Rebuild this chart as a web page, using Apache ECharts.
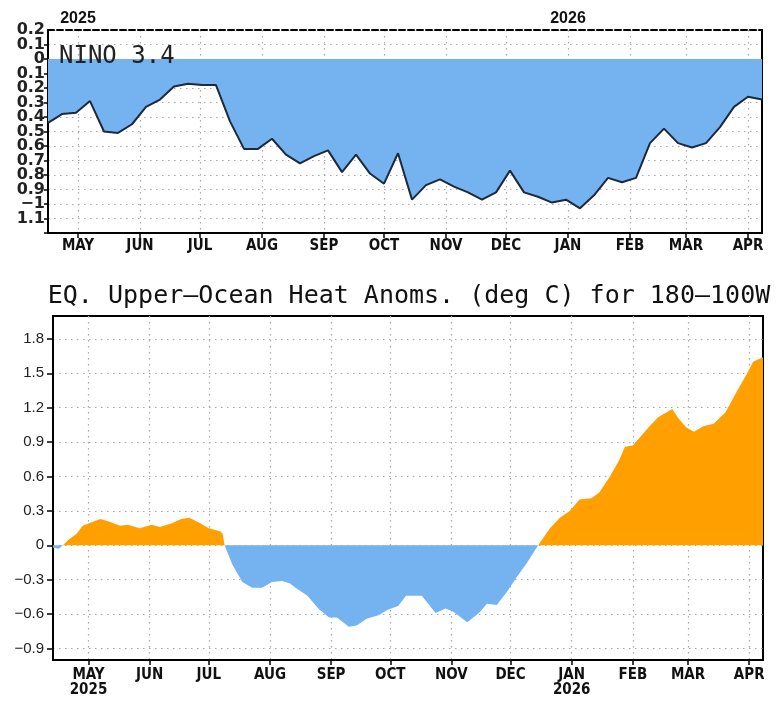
<!DOCTYPE html>
<html><head><meta charset="utf-8">
<script src="https://cdn.jsdelivr.net/npm/echarts@6/dist/echarts.min.js"></script>
<style>html,body{margin:0;padding:0;background:#fff}#c{width:777px;height:702px}</style>
</head><body><div id="c"></div>
<script>
// ---------- DATA ----------
const topDates = ['2025-04-16','2025-04-23','2025-04-30','2025-05-07','2025-05-14','2025-05-21','2025-05-28','2025-06-04','2025-06-11','2025-06-18','2025-06-25','2025-07-02','2025-07-09','2025-07-16','2025-07-23','2025-07-30','2025-08-06','2025-08-13','2025-08-20','2025-08-27','2025-09-03','2025-09-10','2025-09-17','2025-09-24','2025-10-01','2025-10-08','2025-10-15','2025-10-22','2025-10-29','2025-11-05','2025-11-12','2025-11-19','2025-11-26','2025-12-03','2025-12-10','2025-12-17','2025-12-24','2025-12-31','2026-01-07','2026-01-14','2026-01-21','2026-01-28','2026-02-04','2026-02-11','2026-02-18','2026-02-25','2026-03-04','2026-03-11','2026-03-18','2026-03-25','2026-04-01','2026-04-08'];
const nino34 = [-0.44,-0.38,-0.37,-0.29,-0.50,-0.51,-0.45,-0.33,-0.28,-0.19,-0.17,-0.18,-0.18,-0.43,-0.62,-0.62,-0.55,-0.66,-0.72,-0.67,-0.63,-0.78,-0.66,-0.79,-0.86,-0.65,-0.97,-0.87,-0.83,-0.88,-0.92,-0.97,-0.92,-0.77,-0.92,-0.95,-0.99,-0.97,-1.03,-0.94,-0.82,-0.85,-0.82,-0.58,-0.48,-0.58,-0.61,-0.58,-0.47,-0.33,-0.26,-0.28];

const heatDates = ['2025-04-13','2025-04-16','2025-04-18','2025-04-21','2025-04-25','2025-04-28','2025-05-01','2025-05-07','2025-05-11','2025-05-17','2025-05-21','2025-05-27','2025-06-02','2025-06-06','2025-06-12','2025-06-17','2025-06-21','2025-06-26','2025-07-01','2025-07-07','2025-07-08','2025-07-09','2025-07-13','2025-07-18','2025-07-23','2025-07-28','2025-08-02','2025-08-07','2025-08-11','2025-08-14','2025-08-20','2025-08-26','2025-08-31','2025-09-04','2025-09-10','2025-09-14','2025-09-19','2025-09-25','2025-09-30','2025-10-05','2025-10-09','2025-10-17','2025-10-24','2025-10-29','2025-11-02','2025-11-09','2025-11-15','2025-11-19','2025-11-24','2025-11-29','2025-12-04','2025-12-09','2025-12-15','2025-12-21','2025-12-26','2025-12-31','2026-01-05','2026-01-11','2026-01-15','2026-01-20','2026-01-25','2026-01-28','2026-02-01','2026-02-04','2026-02-09','2026-02-14','2026-02-21','2026-02-24','2026-02-28','2026-03-04','2026-03-09','2026-03-14','2026-03-20','2026-03-25','2026-03-31','2026-04-03','2026-04-08'];
const heatAnom = [-0.02,-0.03,0,0.05,0.10,0.17,0.19,0.23,0.21,0.17,0.18,0.15,0.18,0.16,0.19,0.23,0.24,0.20,0.15,0.12,0.10,0,-0.17,-0.32,-0.37,-0.37,-0.32,-0.31,-0.33,-0.37,-0.44,-0.56,-0.63,-0.63,-0.71,-0.70,-0.64,-0.61,-0.56,-0.53,-0.44,-0.44,-0.59,-0.55,-0.58,-0.67,-0.59,-0.51,-0.52,-0.41,-0.28,-0.16,0,0.15,0.24,0.30,0.40,0.41,0.46,0.59,0.74,0.86,0.87,0.93,1.03,1.12,1.19,1.11,1.03,0.99,1.04,1.06,1.16,1.32,1.50,1.60,1.64];

const monthTicks = ['2025-05-01','2025-06-01','2025-07-01','2025-08-01','2025-09-01','2025-10-01','2025-11-01','2025-12-01','2026-01-01','2026-02-01','2026-03-01','2026-04-01'];
const yearTicks = ['2025-05-01','2026-01-01'];
const monthNames = ['JAN','FEB','MAR','APR','MAY','JUN','JUL','AUG','SEP','OCT','NOV','DEC'];
const heatYTicks = [-0.9,-0.6,-0.3,0,0.3,0.6,0.9,1.2,1.5,1.8];
const topRange = ['2025-04-16','2026-04-08'];
const bottomRange = ['2025-04-13','2026-04-08'];
const titleText = 'EQ. Upper\u2013Ocean Heat Anoms. (deg C) for 180\u2013100W';
const ninoText = 'NINO 3.4';

// ---------- HELPERS ----------
const ts = s => Date.parse(s + 'T00:00:00Z');
const monthTs = monthTicks.map(ts);
const yearTs = yearTicks.map(ts);
const monthOf = v => monthNames[new Date(v).getUTCMonth()];
const yearOf = v => new Date(v).getUTCFullYear();
const isYearTick = v => yearTs.some(t => Math.abs(t - v) < 3600000);

const BLUE = '#74b2f0', ORANGE = '#ffa000';
const dotted = {color: '#a8a8a8', width: 1.2, type: [1.5, 4.5]};
const condFamily = '"DejaVu Sans Condensed", "Liberation Sans Narrow", "Arial Narrow", "Liberation Sans", sans-serif';
const monthFont = {fontFamily: condFamily, fontWeight: 'bold', fontSize: 15, color: '#111'};
const topYFont = {fontFamily: 'DejaVu Sans', fontWeight: 'bold', fontSize: 16, color: '#222'};
const topYLabel = v => { const r = Math.round(v * 10) / 10;
  if (r <= -1.15) return '';
  if (r === -1) return '\u22121';
  return String(Math.abs(r)); };

const chart = echarts.init(document.getElementById('c'), null, {renderer: 'canvas'});
chart.setOption({
  animation: false,
  backgroundColor: '#fff',
  title: [
    {text: titleText, left: 404, top: 279, textAlign: 'center',
     textStyle: {fontFamily: 'DejaVu Sans Mono', fontWeight: 'normal', fontSize: 25, color: '#111'}},
    {text: ninoText, left: 54, top: 40,
     textStyle: {fontFamily: 'DejaVu Sans Mono', fontWeight: 'normal', fontSize: 24, color: '#222'}}
  ],
  grid: [
    {left: 48, top: 30, width: 714, height: 203, containLabel: false},
    {left: 53, top: 316, width: 710, height: 344, containLabel: false,
     show: true, borderColor: '#000', borderWidth: 2, backgroundColor: 'transparent'}
  ],
  xAxis: [
    {gridIndex: 0, type: 'value', position: 'bottom', min: ts(topRange[0]), max: ts(topRange[1]),
     axisLine: {show: true, onZero: false, lineStyle: {color: '#000', width: 2}},
     axisTick: {show: true, customValues: monthTs, length: 5, lineStyle: {color: '#000', width: 1.5}},
     axisLabel: {customValues: monthTs, margin: 6, formatter: v => monthOf(v), ...monthFont},
     splitLine: {show: true, lineStyle: dotted}},
    {gridIndex: 0, type: 'value', position: 'top', min: ts(topRange[0]), max: ts(topRange[1]),
     axisLine: {show: true, onZero: false, lineStyle: {color: '#000', width: 2, type: [6, 3]}},
     axisTick: {show: false},
     axisLabel: {customValues: yearTs, margin: 3, formatter: v => String(yearOf(v)),
       fontFamily: 'Liberation Sans', fontWeight: 'bold', fontSize: 16, color: '#111'},
     splitLine: {show: false}},
    {gridIndex: 1, type: 'value', position: 'bottom', min: ts(bottomRange[0]), max: ts(bottomRange[1]),
     axisLine: {show: true, onZero: false, lineStyle: {color: '#000', width: 2}},
     axisTick: {show: true, customValues: monthTs, length: 5, lineStyle: {color: '#000', width: 1.5}},
     axisLabel: {customValues: monthTs, margin: 8, lineHeight: 15,
       formatter: v => isYearTick(v) ? monthOf(v) + '\n' + yearOf(v) : monthOf(v), ...monthFont},
     splitLine: {show: true, lineStyle: dotted}}
  ],
  yAxis: [
    {gridIndex: 0, type: 'value', min: -1.2, max: 0.2, interval: 0.1,
     axisLine: {show: true, onZero: false, lineStyle: {color: '#000', width: 2}},
     axisTick: {show: true, length: 4, lineStyle: {color: '#000', width: 1.5}},
     axisLabel: {margin: 3, showMaxLabel: false, hideOverlap: false, ...topYFont, formatter: topYLabel},
     splitLine: {show: true, lineStyle: dotted}},
    {gridIndex: 0, type: 'value', position: 'right', min: -1.2, max: 0.2,
     axisLine: {show: true, onZero: false, lineStyle: {color: '#000', width: 2}},
     axisTick: {show: false}, axisLabel: {show: false}, splitLine: {show: false}},
    {gridIndex: 1, type: 'value', min: -1, max: 2,
     axisLine: {show: true, onZero: false, lineStyle: {color: '#000', width: 2}},
     axisTick: {show: true, customValues: heatYTicks, length: 6, lineStyle: {color: '#000', width: 1.5}},
     axisLabel: {customValues: heatYTicks, margin: 9, fontFamily: 'Liberation Sans', fontSize: 15, color: '#222',
       formatter: v => { const r = Math.round(v * 10) / 10; return r === 0 ? '0' : (r < 0 ? '\u2212' + Math.abs(r).toFixed(1) : r.toFixed(1)); }},
     splitLine: {show: true, lineStyle: dotted}},
    {gridIndex: 0, type: 'value', position: 'left', min: -1.2, max: 0.2, interval: 0.1,
     axisLine: {show: false}, axisTick: {show: false}, splitLine: {show: false},
     axisLabel: {margin: 3, showMaxLabel: true, hideOverlap: false, ...topYFont,
       formatter: v => (Math.round(v * 10) / 10 === 0.2 ? topYLabel(v) : '')}}
  ],
  series: [
    {type: 'line', xAxisIndex: 0, yAxisIndex: 0, symbol: 'none', z: 3,
     data: topDates.map((d, i) => [ts(d), nino34[i]]),
     lineStyle: {color: '#1c2a3a', width: 2},
     areaStyle: {color: BLUE, opacity: 1, origin: 0}},
    {type: 'line', xAxisIndex: 2, yAxisIndex: 2, symbol: 'none', z: 3,
     data: heatDates.map((d, i) => [ts(d), Math.max(heatAnom[i], 0)]),
     lineStyle: {width: 0}, areaStyle: {color: ORANGE, opacity: 1, origin: 0}},
    {type: 'line', xAxisIndex: 2, yAxisIndex: 2, symbol: 'none', z: 3,
     data: heatDates.map((d, i) => [ts(d), Math.min(heatAnom[i], 0)]),
     lineStyle: {width: 0}, areaStyle: {color: BLUE, opacity: 1, origin: 0}}
  ]
});
</script>
</body></html>
